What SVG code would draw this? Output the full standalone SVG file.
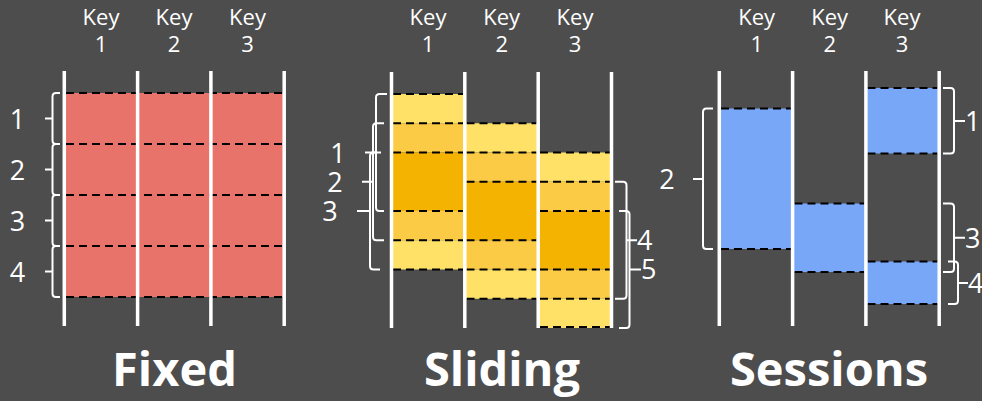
<svg xmlns="http://www.w3.org/2000/svg" width="982" height="401" viewBox="0 0 982 401">
<style>
.vl{stroke:#fff;stroke-width:3.5}
.dash{stroke:#000;stroke-width:2.2;stroke-dasharray:8 5;fill:none}
.br{fill:none;stroke:#fff;stroke-width:2}
.t{font-family:"Open Sans","DejaVu Sans",sans-serif;fill:#fff}
.key{font-size:22px;text-anchor:middle}
.num{font-size:27px}
.mid{text-anchor:middle}
.title{font-size:47px;font-weight:bold;text-anchor:middle}
.red{fill:#E8736A}
.y1{fill:#FFE168}
.y2{fill:#FCCB45}
.y3{fill:#F5B301}
.blue{fill:#78A7F8}
</style>
<rect width="982" height="401" fill="#4D4D4D"/>

<g id="fixed">
  <rect class="red" x="64.3" y="93" width="219.9" height="204"/>
  <g>
    <line class="dash" x1="66" y1="93" x2="283" y2="93"/>
    <line class="dash" x1="66" y1="144" x2="283" y2="144"/>
    <line class="dash" x1="66" y1="195" x2="283" y2="195"/>
    <line class="dash" x1="66" y1="246" x2="283" y2="246"/>
    <line class="dash" x1="66" y1="297" x2="283" y2="297"/>
  </g>
  <line class="vl" x1="64.3" y1="71" x2="64.3" y2="326"/>
  <line class="vl" x1="137.6" y1="71" x2="137.6" y2="326"/>
  <line class="vl" x1="210.9" y1="71" x2="210.9" y2="326"/>
  <line class="vl" x1="284.2" y1="71" x2="284.2" y2="326"/>
  <g class="t key">
    <text x="101" y="25">Key</text><text x="101" y="52">1</text>
    <text x="174" y="25">Key</text><text x="174" y="52">2</text>
    <text x="247.5" y="25">Key</text><text x="247.5" y="52">3</text>
  </g>
  <path class="br" d="M60,93 H56 Q52.5,93 52.5,96.5 V140.5 Q52.5,144 56,144 H60 M52.5,118.5 H45"/>
  <path class="br" d="M60,144 H56 Q52.5,144 52.5,147.5 V191.5 Q52.5,195 56,195 H60 M52.5,169.5 H45"/>
  <path class="br" d="M60,195 H56 Q52.5,195 52.5,198.5 V242.5 Q52.5,246 56,246 H60 M52.5,220.5 H45"/>
  <path class="br" d="M60,246 H56 Q52.5,246 52.5,249.5 V293.5 Q52.5,297 56,297 H60 M52.5,271.5 H45"/>
  <g class="t num mid">
    <text x="17.5" y="128.5">1</text>
    <text x="17.5" y="179.5">2</text>
    <text x="17.5" y="230.5">3</text>
    <text x="17.5" y="281.5">4</text>
  </g>
  <text class="t title" x="174.5" y="386">Fixed</text>
</g>

<g id="sliding">
  <rect class="y1" x="391.5" y="94" width="73.3" height="29.25"/>
  <rect class="y2" x="391.5" y="123.25" width="73.3" height="29.25"/>
  <rect class="y3" x="391.5" y="152.5" width="73.3" height="58.5"/>
  <rect class="y2" x="391.5" y="211" width="73.3" height="29.25"/>
  <rect class="y1" x="391.5" y="240.25" width="73.3" height="29.25"/>
  <rect class="y1" x="464.8" y="123.25" width="73.4" height="29.25"/>
  <rect class="y2" x="464.8" y="152.5" width="73.4" height="29.25"/>
  <rect class="y3" x="464.8" y="181.75" width="73.4" height="58.5"/>
  <rect class="y2" x="464.8" y="240.25" width="73.4" height="29.25"/>
  <rect class="y1" x="464.8" y="269.5" width="73.4" height="29.25"/>
  <rect class="y1" x="538.2" y="152.5" width="73.3" height="29.25"/>
  <rect class="y2" x="538.2" y="181.75" width="73.3" height="29.25"/>
  <rect class="y3" x="538.2" y="211" width="73.3" height="58.5"/>
  <rect class="y2" x="538.2" y="269.5" width="73.3" height="29.25"/>
  <rect class="y1" x="538.2" y="298.75" width="73.3" height="29.25"/>
  <g>
    <line class="dash" x1="393" y1="94" x2="463" y2="94"/>
    <line class="dash" x1="393" y1="123.25" x2="463" y2="123.25"/>
    <line class="dash" x1="393" y1="152.5" x2="463" y2="152.5"/>
    <line class="dash" x1="393" y1="211" x2="463" y2="211"/>
    <line class="dash" x1="393" y1="240.25" x2="463" y2="240.25"/>
    <line class="dash" x1="393" y1="269.5" x2="463" y2="269.5"/>
    <line class="dash" x1="466.5" y1="123.25" x2="536.5" y2="123.25"/>
    <line class="dash" x1="466.5" y1="152.5" x2="536.5" y2="152.5"/>
    <line class="dash" x1="466.5" y1="181.75" x2="536.5" y2="181.75"/>
    <line class="dash" x1="466.5" y1="240.25" x2="536.5" y2="240.25"/>
    <line class="dash" x1="466.5" y1="269.5" x2="536.5" y2="269.5"/>
    <line class="dash" x1="466.5" y1="298.75" x2="536.5" y2="298.75"/>
    <line class="dash" x1="540" y1="152.5" x2="610" y2="152.5"/>
    <line class="dash" x1="540" y1="181.75" x2="610" y2="181.75"/>
    <line class="dash" x1="540" y1="211" x2="610" y2="211"/>
    <line class="dash" x1="540" y1="269.5" x2="610" y2="269.5"/>
    <line class="dash" x1="540" y1="298.75" x2="610" y2="298.75"/>
    <line class="dash" x1="540" y1="327" x2="610" y2="327"/>
  </g>
  <line class="vl" x1="391.5" y1="72" x2="391.5" y2="328"/>
  <line class="vl" x1="464.8" y1="72" x2="464.8" y2="328"/>
  <line class="vl" x1="538.2" y1="72" x2="538.2" y2="328"/>
  <line class="vl" x1="611.5" y1="72" x2="611.5" y2="328"/>
  <g class="t key">
    <text x="428" y="25">Key</text><text x="428" y="52">1</text>
    <text x="501.7" y="25">Key</text><text x="501.7" y="52">2</text>
    <text x="575" y="25">Key</text><text x="575" y="52">3</text>
  </g>
  <path class="br" d="M387,94 H379.5 Q376,94 376,97.5 V207.5 Q376,211 379.5,211 H384 M376,152.5 H365"/>
  <path class="br" d="M384,123.25 H376.5 Q373,123.25 373,126.75 V236.75 Q373,240.25 376.5,240.25 H384 M373,181.75 H362"/>
  <path class="br" d="M381,152.5 H373.5 Q370,152.5 370,156 V266 Q370,269.5 373.5,269.5 H380 M370,211 H357"/>
  <path class="br" d="M615,181.75 H623 Q626.5,181.75 626.5,185.25 V295.25 Q626.5,298.75 623,298.75 H615 M626.5,240.25 H637"/>
  <path class="br" d="M619,211 H626 Q629.5,211 629.5,214.5 V324.5 Q629.5,328 626,328 H619 M629.5,269.5 H641"/>
  <g class="t num mid">
    <text x="338" y="163">1</text>
    <text x="335" y="192">2</text>
    <text x="330" y="221">3</text>
  </g>
  <g class="t num">
    <text x="637" y="249.5">4</text>
    <text x="641" y="279">5</text>
  </g>
  <text class="t title" x="502" y="386">Sliding</text>
</g>

<g id="sessions">
  <rect class="blue" x="719.3" y="108.5" width="73.3" height="140.5"/>
  <rect class="blue" x="792.6" y="203.5" width="73.3" height="68.5"/>
  <rect class="blue" x="865.9" y="88" width="73.3" height="65.5"/>
  <rect class="blue" x="865.9" y="261.5" width="73.3" height="42.5"/>
  <g>
    <line class="dash" x1="721" y1="108.5" x2="791" y2="108.5"/>
    <line class="dash" x1="721" y1="249" x2="791" y2="249"/>
    <line class="dash" x1="794.5" y1="203.5" x2="864.5" y2="203.5"/>
    <line class="dash" x1="794.5" y1="272" x2="864.5" y2="272"/>
    <line class="dash" x1="867.5" y1="88" x2="937.5" y2="88"/>
    <line class="dash" x1="867.5" y1="153.5" x2="937.5" y2="153.5"/>
    <line class="dash" x1="867.5" y1="261.5" x2="937.5" y2="261.5"/>
    <line class="dash" x1="867.5" y1="304" x2="937.5" y2="304"/>
  </g>
  <line class="vl" x1="719.3" y1="71" x2="719.3" y2="326"/>
  <line class="vl" x1="792.6" y1="71" x2="792.6" y2="326"/>
  <line class="vl" x1="865.9" y1="71" x2="865.9" y2="326"/>
  <line class="vl" x1="939.2" y1="71" x2="939.2" y2="326"/>
  <g class="t key">
    <text x="756.7" y="25">Key</text><text x="756.7" y="52">1</text>
    <text x="829.7" y="25">Key</text><text x="829.7" y="52">2</text>
    <text x="902" y="25">Key</text><text x="902" y="52">3</text>
  </g>
  <path class="br" d="M713,108.5 H706.5 Q703,108.5 703,112 V245.5 Q703,249 706.5,249 H713 M703,179 H693"/>
  <path class="br" d="M943,88 H950.5 Q954,88 954,91.5 V150 Q954,153.5 950.5,153.5 H943 M954,121 H965"/>
  <path class="br" d="M943,203.5 H950.5 Q954,203.5 954,207 V268.5 Q954,272 950.5,272 H943 M954,237.7 H965"/>
  <path class="br" d="M948,261.5 H954.5 Q958,261.5 958,265 V300.5 Q958,304 954.5,304 H948 M958,283 H968"/>
  <text class="t num mid" x="667" y="189">2</text>
  <g class="t num">
    <text x="965" y="131">1</text>
    <text x="965" y="247.5">3</text>
    <text x="968" y="293">4</text>
  </g>
  <text class="t title" x="829" y="386">Sessions</text>
</g>
</svg>
